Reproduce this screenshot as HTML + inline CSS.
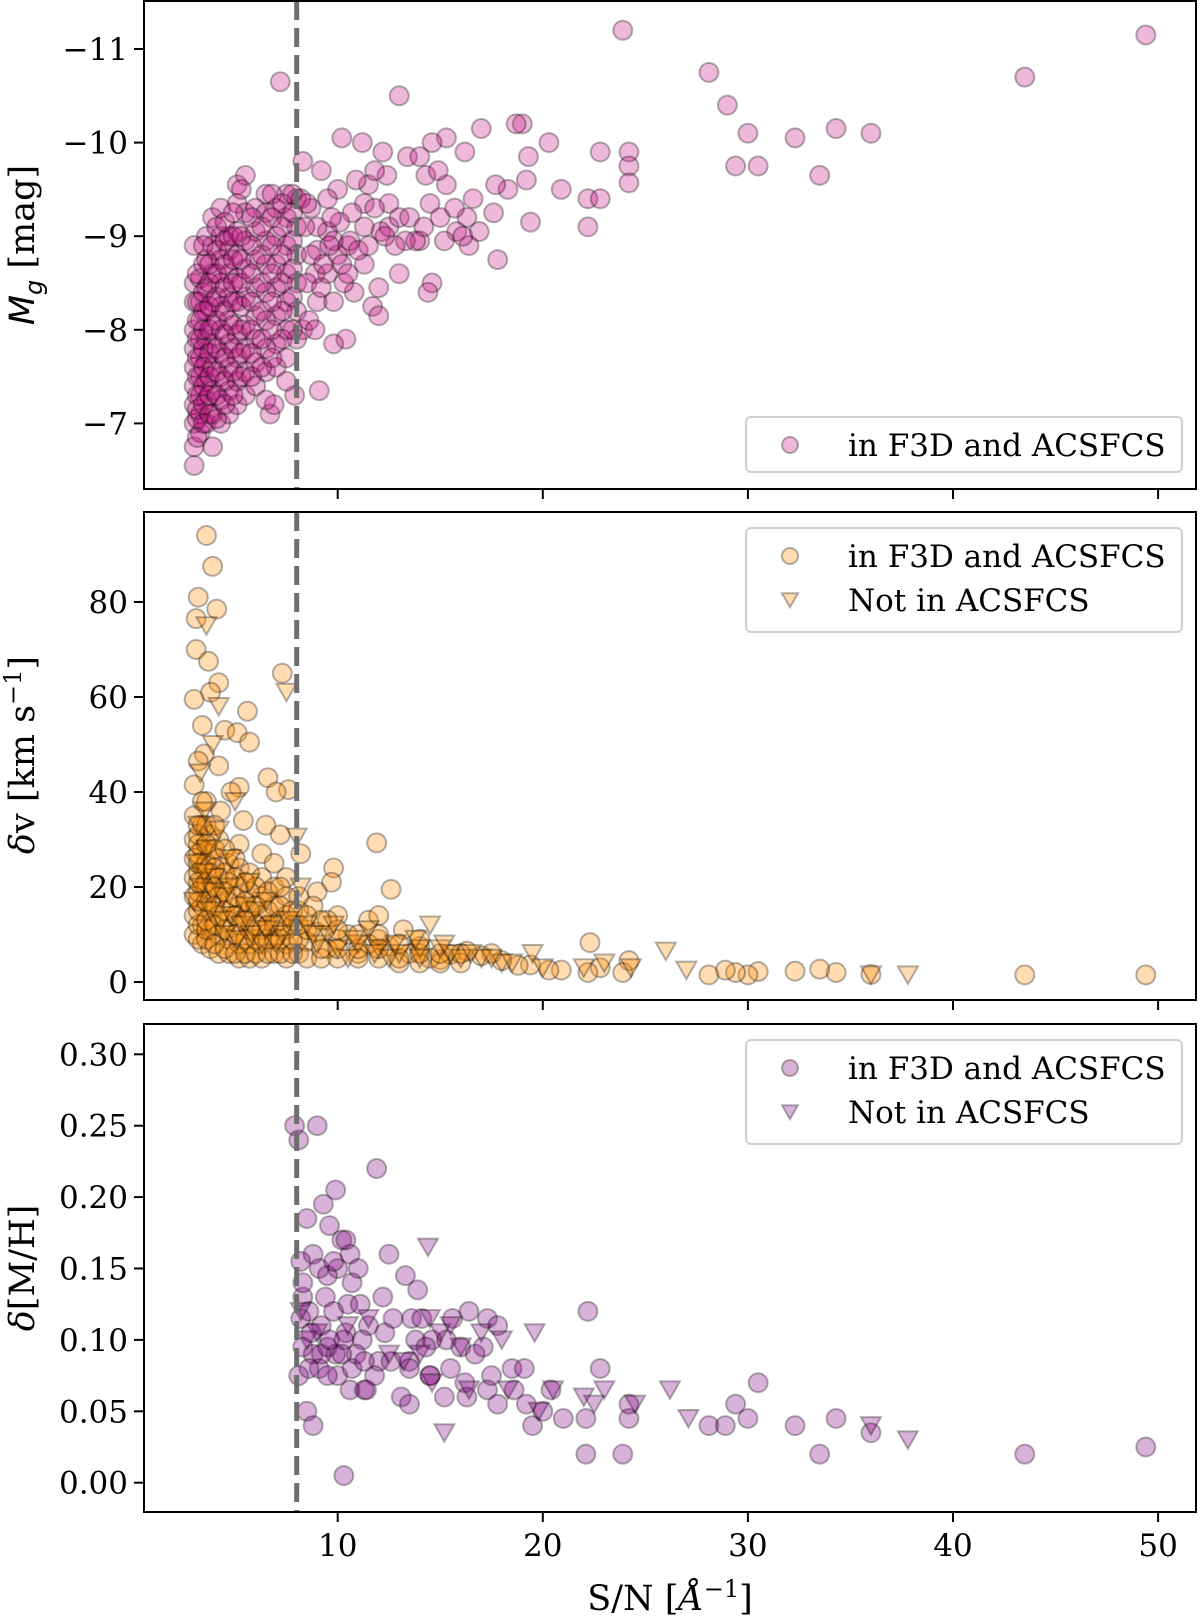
<!DOCTYPE html>
<html><head><meta charset="utf-8"><style>
body{margin:0;background:#fff;}
svg{display:block;font-family:"DejaVu Serif","Liberation Serif",serif;}
</style></head><body>
<svg id="fig" width="1200" height="1618" viewBox="0 0 1200 1618" xmlns="http://www.w3.org/2000/svg"></svg>
<script>
const xTicks=[10,20,30,40,50];
const mgTicks=[-11,-10,-9,-8,-7];
const dvTicks=[0,20,40,60,80];
const mhTicks=[0,0.05,0.10,0.15,0.20,0.25,0.30];
const snCut=8;
const mgCircles=[[23.9,-11.2],[49.4,-11.15],[28.1,-10.75],[43.5,-10.7],[29,-10.4],[30,-10.1],[34.3,-10.15],[36,-10.1],[32.3,-10.05],[29.4,-9.75],[30.5,-9.75],[33.5,-9.65],[24.2,-9.9],[24.2,-9.75],[24.2,-9.57],[22.8,-9.9],[22.2,-9.4],[22.8,-9.4],[22.2,-9.1],[20.9,-9.5],[20.3,-10],[19.3,-9.85],[19,-10.2],[18.7,-10.2],[17,-10.15],[15.3,-10.05],[14.6,-10],[13,-10.5],[10.2,-10.05],[11.2,-10],[7.2,-10.65],[12.2,-9.9],[13.4,-9.85],[14,-9.85],[12.4,-9.65],[16.2,-9.9],[18.3,-9.5],[19.2,-9.6],[17.7,-9.55],[15.3,-9.55],[14.3,-9.65],[14.9,-9.7],[11.5,-9.55],[11.8,-9.7],[10.9,-9.6],[9.2,-9.7],[8.3,-9.8],[10,-9.5],[9.5,-9.4],[11.3,-9.35],[12.5,-9.35],[14.5,-9.35],[16.6,-9.4],[17.6,-9.25],[19.4,-9.15],[17.8,-8.75],[16.4,-8.9],[15.8,-9.05],[16.9,-9.05],[16.3,-9.2],[15.2,-8.95],[14,-8.95],[13.3,-8.95],[12.8,-8.9],[12.1,-9.05],[11.3,-9.1],[10.7,-9.25],[10.1,-9.15],[9.5,-9.05],[9,-9.1],[8.7,-9.3],[14.6,-8.5],[14.4,-8.4],[12,-8.45],[11.3,-8.7],[11.7,-8.25],[12,-8.15],[10.8,-8.4],[10.3,-8.5],[10,-8.8],[9.5,-8.6],[9.8,-8.95],[10.5,-8.9],[9,-8.85],[8.9,-8.6],[9,-8.3],[10.4,-7.9],[9.8,-7.85],[9.1,-7.35],[7.9,-7.3],[8.3,-8.0],[13.8,-8.95],[13,-8.6],[7.5,-7.45],[6.7,-7.1],[6.9,-7.2],
[3.0,-6.55],[3.0,-6.75],[3.0,-7.0],[3.0,-7.2],[3.0,-7.4],[3.0,-7.6],[3.0,-7.8],[3.0,-8.0],[3.0,-8.3],[3.0,-8.5],[3.0,-8.9],
[3.3,-6.9],[3.3,-7.1],[3.3,-7.3],[3.3,-7.5],[3.3,-7.7],[3.3,-7.9],[3.3,-8.1],[3.3,-8.3],[3.3,-8.55],
[3.6,-7.0],[3.6,-7.25],[3.6,-7.45],[3.6,-7.65],[3.6,-7.9],[3.6,-8.2],[3.6,-8.45],[3.6,-8.75],[3.6,-9.0],
[3.9,-6.75],[3.9,-7.1],[3.9,-7.35],[3.9,-7.6],[3.9,-7.85],[3.9,-8.05],[3.9,-8.3],[3.9,-8.6],[3.9,-8.9],[3.9,-9.2],
[4.3,-7.0],[4.3,-7.25],[4.3,-7.5],[4.3,-7.75],[4.3,-8.0],[4.3,-8.25],[4.3,-8.5],[4.3,-8.75],[4.3,-9.0],[4.3,-9.3],
[4.7,-7.1],[4.7,-7.35],[4.7,-7.6],[4.7,-7.85],[4.7,-8.1],[4.7,-8.35],[4.7,-8.6],[4.7,-8.85],[4.7,-9.0],
[5.1,-7.2],[5.1,-7.45],[5.1,-7.7],[5.1,-7.95],[5.1,-8.3],[5.1,-8.55],[5.1,-8.8],[5.1,-9.05],[5.1,-9.35],[5.1,-9.55],
[5.5,-7.3],[5.5,-7.55],[5.5,-7.8],[5.5,-8.05],[5.5,-8.35],[5.5,-8.65],[5.5,-8.95],[5.5,-9.25],[5.5,-9.65],
[6.0,-7.4],[6.0,-7.65],[6.0,-7.9],[6.0,-8.15],[6.0,-8.45],[6.0,-8.75],[6.0,-9.05],[6.0,-9.3],
[6.5,-7.25],[6.5,-7.55],[6.5,-7.8],[6.5,-8.1],[6.5,-8.4],[6.5,-8.7],[6.5,-8.95],[6.5,-9.25],[6.5,-9.45],
[7.0,-7.6],[7.0,-7.85],[7.0,-8.15],[7.0,-8.45],[7.0,-8.7],[7.0,-9.0],[7.0,-9.3],
[7.5,-7.7],[7.5,-8.0],[7.5,-8.3],[7.5,-8.6],[7.5,-8.9],[7.5,-9.2],[7.5,-9.45],
[8.0,-7.9],[8.0,-8.2],[8.0,-8.5],[8.0,-8.8],[8.0,-9.1],[8.0,-9.4],
[3.15,-6.85],[3.15,-7.05],[3.15,-7.15],[3.15,-7.3],[3.15,-7.5],[3.15,-7.7],[3.15,-7.9],[3.15,-8.1],[3.15,-8.3],[3.15,-8.6],
[3.45,-7.0],[3.45,-7.2],[3.45,-7.4],[3.45,-7.6],[3.45,-7.8],[3.45,-8.0],[3.45,-8.2],[3.45,-8.4],[3.45,-8.7],[3.45,-8.9],
[3.75,-7.1],[3.75,-7.3],[3.75,-7.5],[3.75,-7.75],[3.75,-8.0],[3.75,-8.25],[3.75,-8.5],[3.75,-8.7],
[4.1,-7.05],[4.1,-7.3],[4.1,-7.55],[4.1,-7.8],[4.1,-8.1],[4.1,-8.35],[4.1,-8.6],[4.1,-8.85],[4.1,-9.1],
[4.5,-7.2],[4.5,-7.45],[4.5,-7.7],[4.5,-7.95],[4.5,-8.2],[4.5,-8.45],[4.5,-8.7],[4.5,-8.95],[4.5,-9.15],
[4.9,-7.3],[4.9,-7.55],[4.9,-7.8],[4.9,-8.05],[4.9,-8.3],[4.9,-8.5],[4.9,-8.75],[4.9,-9.0],[4.9,-9.25],
[5.3,-7.5],[5.3,-7.75],[5.3,-8.0],[5.3,-8.25],[5.3,-8.5],[5.3,-8.75],[5.3,-9.0],[5.3,-9.5],
[5.8,-7.5],[5.8,-7.75],[5.8,-8.0],[5.8,-8.3],[5.8,-8.6],[5.8,-8.9],[5.8,-9.2],
[6.3,-7.6],[6.3,-7.9],[6.3,-8.2],[6.3,-8.5],[6.3,-8.8],[6.3,-9.1],
[6.8,-7.7],[6.8,-8.0],[6.8,-8.3],[6.8,-8.6],[6.8,-8.9],[6.8,-9.2],[6.8,-9.45],
[7.3,-7.9],[7.3,-8.2],[7.3,-8.5],[7.3,-8.8],[7.3,-9.1],[7.3,-9.35],
[7.8,-8.0],[7.8,-8.35],[7.8,-8.65],[7.8,-8.95],[7.8,-9.25],[7.8,-9.45],
[8.5,-8.5],[8.7,-8.8],[9.3,-8.7],[9.6,-8.9],[10.2,-8.7],[10.6,-8.95],[11,-8.85],[9.2,-8.45],[8.6,-8.1],[8.9,-8.0],[9.8,-8.3],[10.5,-8.6],[11.5,-8.9],[8.4,-9.1],[8.2,-9.4],[8.5,-9.35],[9.7,-9.2],[12.5,-9.1],[13,-9.2],[11.8,-9.3],[12.3,-9.0],[13.5,-9.2],[14.2,-9.1],[15,-9.2],[15.7,-9.3],[16.1,-9.0]];
const dvCircles=[[3.6,94],[3.9,87.5],[3.2,81],[4.1,78.5],[3.1,76.5],[3.1,70],[3.7,67.5],[7.3,65],[4.2,63],[3.8,61],[3.0,59.5],[5.6,57],[3.4,54],[4.5,53],[5.1,52.5],[5.7,50.5],[3.5,48],[3.2,46.5],[4.2,45.5],[6.6,43],[5.2,41],[7.6,40.5],[7,40],[3.0,41.5],[4.8,40],[3.6,38],[4.3,36],[5.4,34],[6.5,33],[7.2,31],[8.2,27],[9.8,24],[11.9,29.3],[12.6,19.5],[9.7,21],[9,19],[22.3,8.3],[49.4,1.5],[43.5,1.5],[36,1.6],[34.3,2],[33.5,2.7],[32.3,2.3],[30.5,2.2],[30,1.5],[29.4,2],[28.9,2.5],[28.1,1.5],[24.2,4.5],[23.9,2],[22.8,3],[22.2,2],[20.9,2.5],[20.3,2.5],[19.4,3.6],[18.8,3.5],[18,4.5],[17.5,6],[17,5.5],[16.3,6.5],[15.5,5.8],[15,4.7],[14.5,5],[14,7.5],[13.5,6],[13,4],[12.5,7.5],[12,9],[11.5,8],[11,6],[10.5,10],[10,9],[9.5,7],[9,10.5],[8.5,8.5],[8.8,16],[10,14],[11.5,13],[12,14],[13.2,11],[9.5,13],
[3.0,10],[3.0,14],[3.0,18],[3.0,22],[3.0,26],[3.0,30],[3.0,35],
[3.4,8],[3.4,12],[3.4,16],[3.4,20],[3.4,24],[3.4,28],[3.4,33],[3.4,38],
[3.8,7],[3.8,11],[3.8,15],[3.8,19],[3.8,23],[3.8,27],[3.8,31],
[4.2,6],[4.2,10],[4.2,14],[4.2,18],[4.2,22],[4.2,26],[4.2,30],
[4.7,6],[4.7,9],[4.7,13],[4.7,17],[4.7,21],[4.7,25],
[5.2,5],[5.2,8],[5.2,12],[5.2,16],[5.2,20],[5.2,24],[5.2,29],
[5.7,5],[5.7,8],[5.7,11],[5.7,15],[5.7,19],[5.7,23],
[6.3,5],[6.3,8],[6.3,11],[6.3,14],[6.3,18],[6.3,22],[6.3,27],
[6.9,6],[6.9,9],[6.9,12],[6.9,16],[6.9,20],[6.9,25],
[7.5,5],[7.5,8],[7.5,11],[7.5,14],[7.5,18],[7.5,22],
[8.1,6],[8.1,9],[8.1,12],[8.1,15],[8.1,18],
[3.2,9],[3.2,12],[3.2,15],[3.2,17],[3.2,19],[3.2,21],[3.2,23],[3.2,25],[3.2,27],[3.2,29],[3.2,31],[3.2,33],
[3.6,9],[3.6,11],[3.6,13],[3.6,17],[3.6,21],[3.6,25],[3.6,29],[3.6,33],
[4.0,8],[4.0,12],[4.0,16],[4.0,20],[4.0,24],[4.0,28],[4.0,33],
[4.5,7],[4.5,11],[4.5,15],[4.5,19],[4.5,23],[4.5,28],
[5.0,6],[5.0,10],[5.0,14],[5.0,18],[5.0,22],[5.0,26],
[5.5,6],[5.5,9],[5.5,13],[5.5,17],[5.5,21],
[6.0,6],[6.0,9],[6.0,12],[6.0,16],[6.0,20],
[6.6,6],[6.6,9],[6.6,12],[6.6,15],[6.6,19],
[7.2,6],[7.2,9],[7.2,13],[7.2,16],[7.2,20],
[7.8,6],[7.8,9],[7.8,12],[7.8,15],
[8.5,5],[8.5,11],[8.5,14],[9.2,5],[9.2,7],[9.2,13],[10,5],[10,7],[10,11],[11,5],[11,7],[11,10],[12,5],[12,7],[12,10],[13,5],[13,8],[14,4],[14,6],[14,9],[15,4],[15,6],[16,4],[16,6]];
const dvTriangles=[[3.6,75],[4.2,58],[7.5,61],[8,30.5],[3.3,44],[3.9,50],[5,38],[3.2,33],[3.6,28],[4,22],[4.4,18],[4.8,14],[5.3,12],[5.8,10],[6.3,8],[3.3,20],[3.8,15],[4.5,10],[5.5,16],[6.8,12],[7.3,10],[8.5,12],[9,8],[9.5,10],[10,7],[11,8],[12,7],[13,6],[14,7],[14.5,12],[15,7],[15.5,6],[16,5],[17,5],[18,4],[19.5,6],[20,3],[22,3],[23,4],[24.3,3],[26,6.5],[27,2.5],[36,1.5],[37.8,1.5],[10.5,5],[12.5,5],[8.2,20],[11.5,11],[14,5],
[3.1,25],[3.5,23],[3.9,19],[4.3,13],[4.7,20],[5.1,9],[5.6,13],[6,15],[6.5,11],[7,8],[7.6,13],[8.8,10],[9.8,12],[10.8,9],[11.8,6],[12.8,8],[13.8,9],[15.2,8],[16.5,6],[17.5,5],[18.5,4],[3.5,36],[4.2,32],[4.8,26],[5.7,21],[6.5,17],[3.0,17]];
const mhCircles=[[7.9,0.25],[8.1,0.24],[9.0,0.25],[9.9,0.205],[11.9,0.22],[8.5,0.185],[9.3,0.195],[9.6,0.18],[8.2,0.155],[8.8,0.16],[10.2,0.17],[10.6,0.16],[11,0.15],[12.5,0.16],[13.3,0.145],[13.9,0.135],[8.3,0.13],[9.1,0.15],[9.4,0.13],[10.7,0.14],[11.1,0.125],[12.2,0.13],[8.2,0.115],[8.6,0.12],[9.2,0.11],[9.8,0.12],[10.4,0.105],[11.5,0.11],[12.3,0.105],[13.6,0.115],[14.1,0.115],[15.6,0.115],[16.4,0.12],[17.3,0.115],[17.8,0.11],[8.3,0.095],[8.8,0.09],[9.5,0.095],[9.9,0.09],[10.3,0.1],[11.2,0.1],[12,0.085],[12.6,0.085],[13.5,0.085],[14.6,0.1],[15.3,0.1],[16,0.095],[16.7,0.09],[17.1,0.095],[8.1,0.075],[9.1,0.08],[10,0.075],[10.7,0.08],[11.8,0.075],[13.5,0.08],[14.5,0.075],[15.5,0.08],[16.2,0.07],[17.5,0.075],[18.5,0.08],[19.1,0.08],[20.4,0.065],[22.8,0.08],[30.5,0.07],[8.5,0.05],[8.8,0.04],[10.3,0.005],[10.6,0.065],[11.3,0.065],[13.1,0.06],[13.5,0.055],[14.5,0.075],[15.2,0.06],[16.3,0.06],[17.3,0.065],[17.8,0.055],[18.6,0.065],[19.2,0.055],[19.5,0.04],[21,0.045],[22.2,0.12],[22.1,0.045],[22.1,0.02],[23.9,0.02],[24.2,0.045],[24.2,0.055],[28.1,0.04],[28.9,0.04],[29.4,0.055],[30,0.045],[32.3,0.04],[33.5,0.02],[34.3,0.045],[36,0.035],[43.5,0.02],[49.4,0.025],[20,0.05],
[8.3,0.14],[8.7,0.105],[9.2,0.09],[9.6,0.1],[10,0.15],[10.5,0.125],[10.9,0.09],[11.3,0.085],[9.5,0.145],[9.8,0.155],[10.2,0.09],[12.7,0.115],[13.8,0.1],[14.3,0.095],[8.6,0.08],[9.5,0.075],[10.4,0.17],[11.4,0.065]];
const mhTriangles=[[14.4,0.165],[8.2,0.12],[9,0.105],[11.5,0.115],[12.5,0.09],[13.2,0.085],[14,0.09],[14.5,0.115],[15,0.105],[15.5,0.11],[16,0.095],[17,0.105],[18,0.1],[19.6,0.105],[14.6,0.07],[16.4,0.065],[18.3,0.065],[20.5,0.065],[22,0.06],[22.5,0.055],[23,0.065],[24.5,0.055],[26.2,0.065],[27.1,0.045],[36,0.04],[37.8,0.03],[15.2,0.035],[19.8,0.05],[8.5,0.1],[10.5,0.11]];

const NS="http://www.w3.org/2000/svg";
const svg=document.getElementById('fig');
function mk(tag,attrs,parent){const e=document.createElementNS(NS,tag);for(const k in attrs)e.setAttribute(k,attrs[k]);(parent||svg).appendChild(e);return e;}
const L=144,R=1196;
const xs=v=>337.7+(v-10)*20.51;
const panels=[
 {name:'mg',top:1,bot:489,y:v=>49+(v+11)*93.6,ticks:mgTicks,fmt:v=>'\u2212'+Math.abs(v),fill:'rgba(199,21,133,0.3)'},
 {name:'dv',top:512,bot:1000,y:v=>982-v*4.75,ticks:dvTicks,fmt:v=>String(v),fill:'rgba(255,140,0,0.3)'},
 {name:'mh',top:1024,bot:1512,y:v=>1482.7-v*1428,ticks:mhTicks,fmt:v=>v.toFixed(2),fill:'rgba(128,0,128,0.3)'}
];
const stroke='rgba(0,0,0,0.3)';
function circ(g,x,y,r,fill){const c=mk('circle',{cx:x,cy:y,r:r,fill:fill,stroke:stroke,'stroke-width':2},g);return c;}
function tri(g,x,y,s,fill){const p=mk('path',{d:`M${x-s},${y-s*0.85}L${x+s},${y-s*0.85}L${x},${y+s*0.9}Z`,fill:fill,stroke:stroke,'stroke-width':2,'stroke-linejoin':'miter'},g);return p;}

panels.forEach((p,i)=>{
 const g=mk('g',{});
 
 
 const clip=mk('clipPath',{id:'c'+i},g);mk('rect',{x:L,y:p.top,width:R-L,height:p.bot-p.top},clip);
 const pts=mk('g',{'clip-path':'url(#c'+i+')'},g);
 
 
 const C=i==0?mgCircles:i==1?dvCircles:mhCircles;
 const T=i==0?[]:i==1?dvTriangles:mhTriangles;
 C.forEach(d=>circ(pts,xs(d[0]),p.y(d[1]),9.5,p.fill));
 T.forEach(d=>tri(pts,xs(d[0]),p.y(d[1]),10,p.fill));
 const dl=mk('line',{x1:xs(snCut),x2:xs(snCut),y1:p.top,y2:p.bot,stroke:'#6e6e6e','stroke-width':5,'stroke-dasharray':'19,8'},g);
 
 
 const fr=mk('rect',{x:L,y:p.top,width:R-L,height:p.bot-p.top,fill:'none',stroke:'#000','stroke-width':2},g);
 
 
 xTicks.forEach(t=>{mk('line',{x1:xs(t),x2:xs(t),y1:p.bot,y2:p.bot+10,stroke:'#000','stroke-width':2},g);
  if(i==2){const tx=mk('text',{x:xs(t),y:p.bot+44,'font-size':31,'text-anchor':'middle'},g);tx.textContent=t;}});
 p.ticks.forEach(t=>{const y=p.y(t);mk('line',{x1:L-10,x2:L,y1:y,y2:y,stroke:'#000','stroke-width':2},g);
  const tx=mk('text',{x:L-16,y:y+11,'font-size':31,'text-anchor':'end'},g);tx.textContent=p.fmt(t);
  
  });
 const two=i>0;
 const lt=i==0?417:p.top+16;
 const lh=two?104:55;
 const lg=mk('g',{},g);
 
 
 mk('rect',{x:746,y:lt,width:436,height:lh,rx:5,fill:'rgba(255,255,255,0.8)',stroke:'#d0d0d0','stroke-width':2},lg);
 circ(lg,790,lt+28,8,p.fill);
 const t1=mk('text',{x:848,y:lt+39,'font-size':31},lg);t1.textContent='in F3D and ACSFCS';
 
 
 if(two){tri(lg,790,lt+72,8,p.fill);const t2=mk('text',{x:848,y:lt+83,'font-size':31},lg);t2.textContent='Not in ACSFCS';
  
  }
});
function ylab(html,cy,name){const t=mk('text',{transform:`translate(34,${cy}) rotate(-90)`,'font-size':35,'text-anchor':'middle'});t.innerHTML=html;}
ylab('<tspan font-style="italic" font-family="DejaVu Sans">M</tspan><tspan font-style="italic" font-family="DejaVu Sans" font-size="24" dy="8">g</tspan><tspan dy="-8"> [mag]</tspan>',245,'y-axis-title-mg');
ylab('<tspan font-style="italic">δ</tspan>v [km s<tspan font-size="24" dy="-13">−1</tspan><tspan dy="13">]</tspan>',755,'y-axis-title-dv');
ylab('<tspan font-style="italic">δ</tspan>[M/H]',1268,'y-axis-title-mh');
const xl=mk('text',{x:670,y:1610,'font-size':35,'text-anchor':'middle'});
xl.innerHTML='S/N [<tspan font-style="italic">Å</tspan><tspan font-size="24" dy="-13">−1</tspan><tspan dy="13">]</tspan>';


</script>
</body></html>
